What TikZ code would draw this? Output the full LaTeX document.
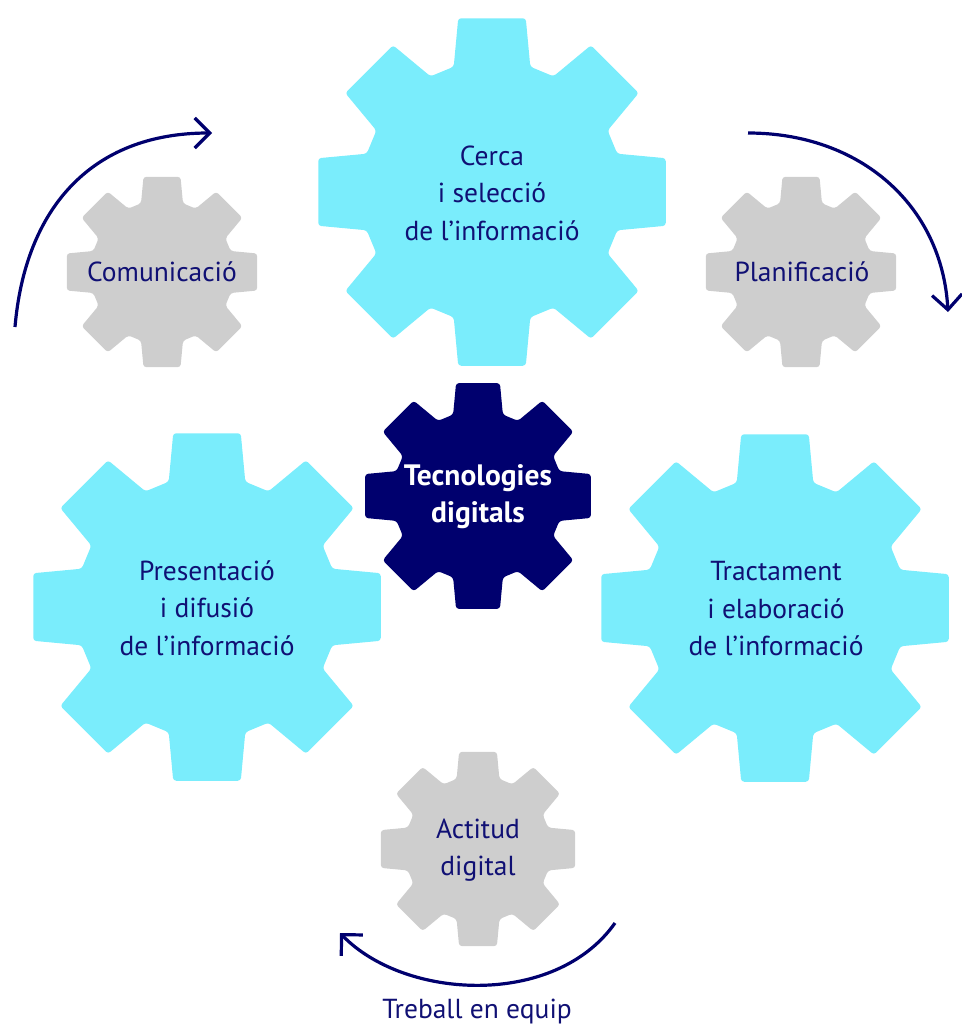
\documentclass[tikz,border=0pt]{standalone}
\usepackage{fontspec}
\setmainfont{PT Sans}
\usetikzlibrary{arrows.meta}
\definecolor{gcyan}{RGB}{122,237,252}
\definecolor{gnavy}{RGB}{0,0,110}
\definecolor{ggray}{RGB}{206,206,206}
\definecolor{tnavy}{RGB}{16,16,116}

% gear outline: centre, outer radius, colour
\newcommand{\gear}[3]{%
  \fill[#3, shift={#1}, rounded corners=3pt]
    (-17:{0.74*#2}) -- (-11:#2) -- (11:#2) -- (17:{0.74*#2})
    \foreach \a in {45,90,...,315}{
      -- ({\a-17}:{0.74*#2}) -- ({\a-11}:#2) -- ({\a+11}:#2) -- ({\a+17}:{0.74*#2})}
    -- cycle;}

\begin{document}
\begin{tikzpicture}[x=1pt, y=-1pt,
    lbl/.style={align=center, text=tnavy, font=\fontsize{27.5}{37.5}\selectfont},
    cyc/.style={draw=gnavy, line width=3.2pt, -{Straight Barb[length=15pt, width=30pt]}}
  ]
  \useasboundingbox (0,0) rectangle (961,1030);

  % big gears
  \gear{(492,192)}{177}{gcyan}
  \gear{(207,607)}{177}{gcyan}
  \gear{(775,608)}{177}{gcyan}
  \node[lbl] (cerca) at (492,193) {Cerca\\i selecció\\de l’informació};
  \node[lbl] (presentacio) at (207,608) {Presentació\\i difusió\\de l’informació};
  \node[lbl] (tractament) at (776,609) {Tractament\\i elaboració\\de l’informació};

  % centre
  \gear{(478,496)}{115}{gnavy}
  \node[lbl, text=white, font=\bfseries\fontsize{29.5}{37}\selectfont] (tec) at (478,497) {Tecnologies\\digitals};

  % small gears
  \gear{(162,272)}{97}{ggray}
  \gear{(801,272)}{97}{ggray}
  \gear{(478,849)}{99}{ggray}
  \node[lbl] (comunicacio) at (162,272) {Comunicació};
  \node[lbl] (planificacio) at (802,272) {Planificació};
  \node[lbl] (actitud) at (478,850) {Actitud\\digital};

  % cycle arrows
  \coordinate (l0) at (15,327);
  \coordinate (l1) at (212,133);
  \coordinate (r0) at (748,133);
  \coordinate (r1) at (948,312);
  \coordinate (b0) at (615,923);
  \coordinate (b1) at (340,933);
  \draw[cyc] (l0) .. controls (25,210) and (90,133) .. (l1);
  \draw[cyc] (r0) .. controls (860,133) and (942,205) .. (r1);
  \draw[cyc] (b0) .. controls (555,1008) and (405,1000) .. (b1);
  \node[lbl] (treball) at (477,1012) {Treball en equip};
\end{tikzpicture}
\end{document}
